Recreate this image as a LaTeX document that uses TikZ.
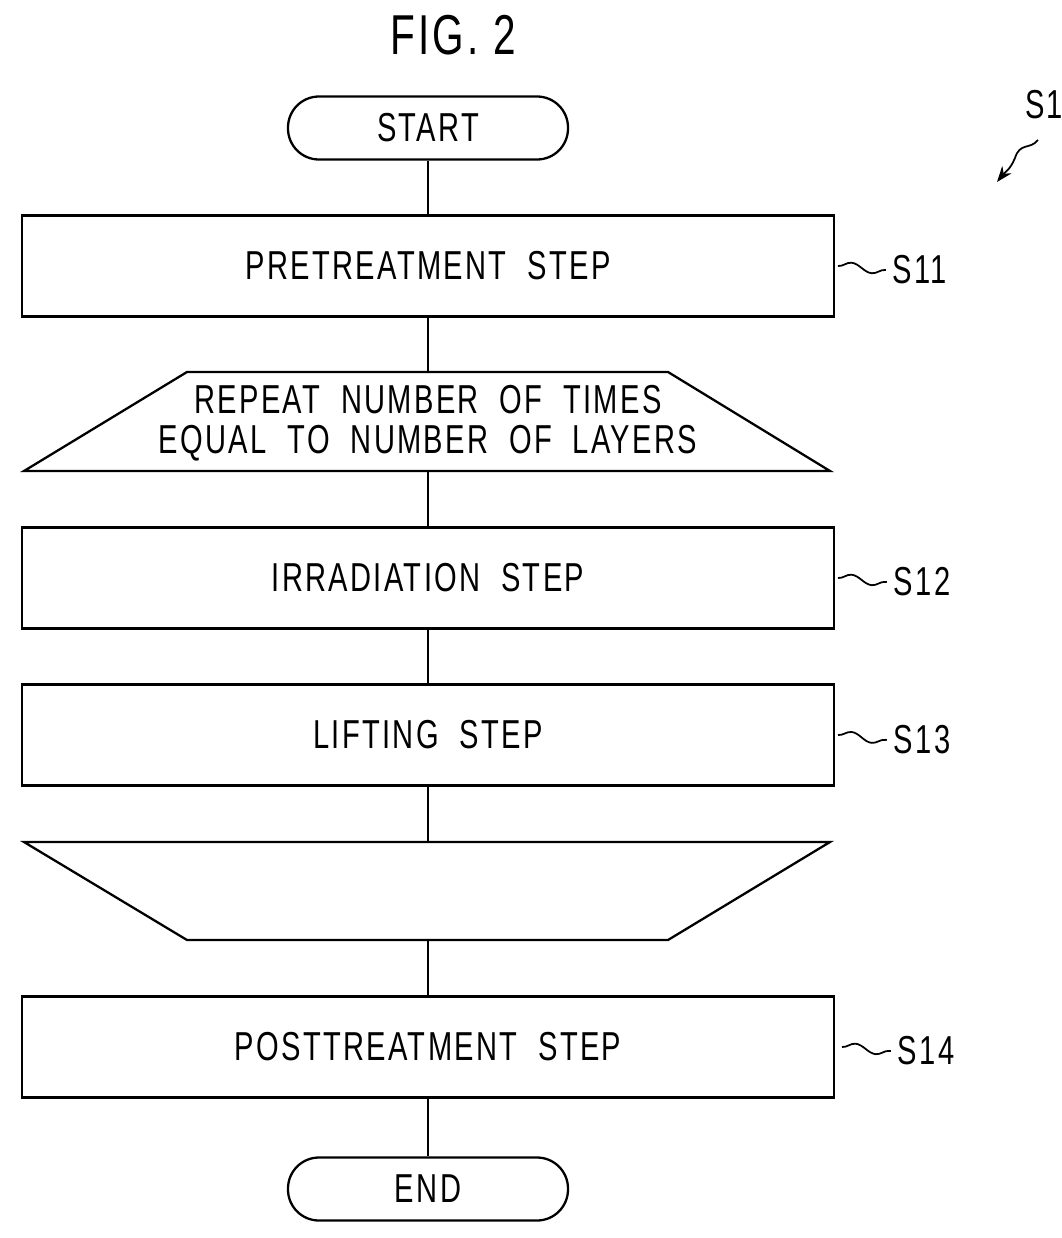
\documentclass[tikz,border=0pt]{standalone}
\usepackage{fontspec}
\setmainfont{Liberation Sans}[LetterSpace=8]
\usetikzlibrary{arrows.meta,decorations.pathmorphing}
\newcommand{\nt}[1]{\scalebox{0.72}[1]{#1}}
\begin{document}
\begin{tikzpicture}[x=0.02cm,y=-0.02cm,line width=1.3pt,
  box/.style={draw,minimum width=812*0.02cm,minimum height=101*0.02cm,font=\fontsize{23}{26}\selectfont},
  term/.style={draw,rounded corners=31*0.02cm,minimum width=280*0.02cm,minimum height=63*0.02cm,font=\fontsize{23}{26}\selectfont},
  lbl/.style={font=\fontsize{23}{26}\selectfont},
  tl/.style={decorate,decoration={snake,amplitude=2.5pt,segment length=24pt},line width=1pt}]
\useasboundingbox (0,0) rectangle (1062,1238);
\node[font=\fontsize{32}{34}\selectfont] (title) at (453,35) {\nt{FIG. 2}};
\node[term] (start) at (428,128) {\nt{START}};
\node[box] (s11) at (428,266) {\nt{PRETREATMENT\ \ STEP}};
\draw (187,372) -- (668,372) -- (830,471) -- (24,471) -- cycle;
\node[lbl,align=center] (loop) at (428,423) {\nt{REPEAT\ \ NUMBER\ \ OF\ \ TIMES}\\[-3pt]\nt{EQUAL\ \ TO\ \ NUMBER\ \ OF\ \ LAYERS}};
\coordinate (lt) at (428,372); \coordinate (lb) at (428,471);
\node[box] (s12) at (428,578) {\nt{IRRADIATION\ \ STEP}};
\node[box] (s13) at (428,735) {\nt{LIFTING\ \ STEP}};
\draw (24,842) -- (830,842) -- (668,940) -- (187,940) -- cycle;
\coordinate (et) at (428,842); \coordinate (eb) at (428,940);
\node[box] (s14) at (428,1047) {\nt{POSTTREATMENT\ \ STEP}};
\node[term] (end) at (428,1189) {\nt{END}};
\draw (start) -- (s11); \draw (s11) -- (lt); \draw (lb) -- (s12);
\draw (s12) -- (s13); \draw (s13) -- (et); \draw (eb) -- (s14); \draw (s14) -- (end);
\node[lbl] (l11) at (920,270) {\nt{S11}};
\node[lbl] (l12) at (922,582) {\nt{S12}};
\node[lbl] (l13) at (922,740) {\nt{S13}};
\node[lbl] (l14) at (926,1051) {\nt{S14}};
\draw[tl] (838,266) -- (l11.west);
\draw[tl] (838,578) -- (l12.west);
\draw[tl] (838,735) -- (l13.west);
\draw[tl] (842,1047) -- (l14.west);
\node[lbl,anchor=west] (s1) at (1018,105) {\nt{S1}};
\draw[line width=1pt,-{Stealth[length=9pt]}] (1038,140) .. controls (1030,150) and (1020,142) .. (1015,158) .. controls (1010,170) and (1005,172) .. (997,182);
\end{tikzpicture}
\end{document}
